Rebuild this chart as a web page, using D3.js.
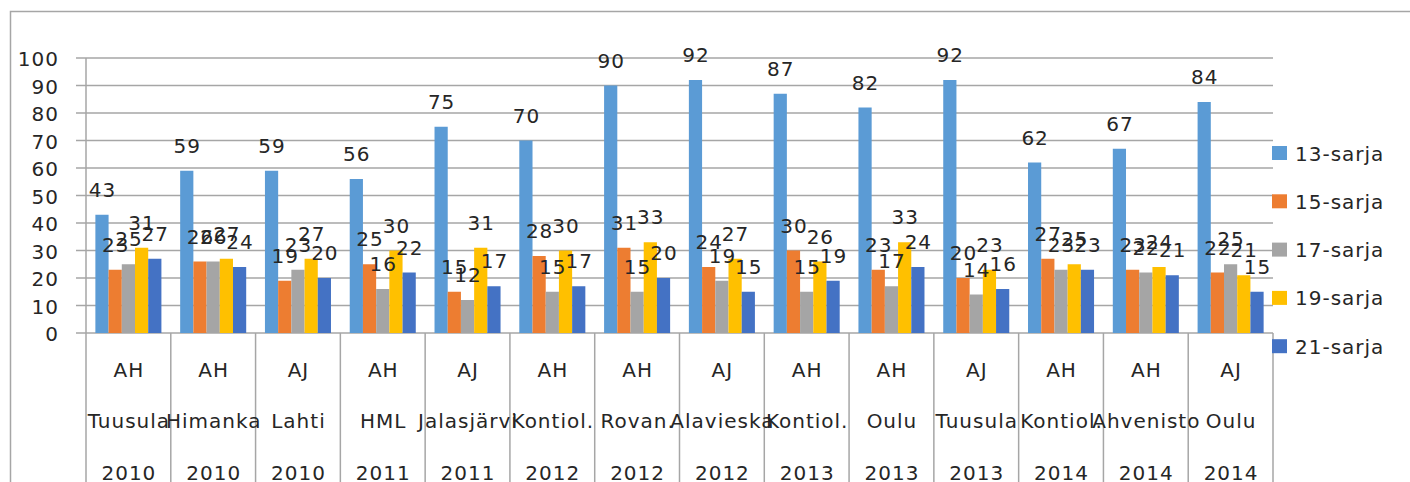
<!DOCTYPE html>
<html>
<head>
<meta charset="utf-8">
<script src="https://cdn.jsdelivr.net/npm/d3@7"></script>
<style>
  body { margin: 0; background: #fff; }
  text { font-family: "DejaVu Sans", sans-serif; font-size: 20px; fill: #262626; letter-spacing: 1px; }
</style>
</head>
<body>
<svg id="chart" width="1410" height="482"></svg>
<script>
// Chart data
var typeLabels = ["AH", "AH", "AJ", "AH", "AJ", "AH", "AH", "AJ", "AH", "AH", "AJ", "AH", "AH", "AJ"];
var placeLabels = ["Tuusula", "Himanka", "Lahti", "HML", "Jalasjärvi", "Kontiol.", "Rovan.", "Alavieska",
  "Kontiol.", "Oulu", "Tuusula", "Kontiol.", "Ahvenisto", "Oulu"];
var yearLabels = ["2010", "2010", "2010", "2011", "2011", "2012", "2012", "2012", "2013", "2013", "2013", "2014", "2014", "2014"];

var seriesNames = ["13-sarja", "15-sarja", "17-sarja", "19-sarja", "21-sarja"];
var sarja13 = [43, 59, 59, 56, 75, 70, 90, 92, 87, 82, 92, 62, 67, 84];
var sarja15 = [23, 26, 19, 25, 15, 28, 31, 24, 30, 23, 20, 27, 23, 22];
var sarja17 = [25, 26, 23, 16, 12, 15, 15, 19, 15, 17, 14, 23, 22, 25];
var sarja19 = [31, 27, 27, 30, 31, 30, 33, 27, 26, 33, 23, 25, 24, 21];
var sarja21 = [27, 24, 20, 22, 17, 17, 20, 15, 19, 24, 16, 23, 21, 15];
var seriesColors = ["#5B9BD5", "#ED7D31", "#A5A5A5", "#FFC000", "#4472C4"];
var yTicks = [0, 10, 20, 30, 40, 50, 60, 70, 80, 90, 100];

var allSeries = [sarja13, sarja15, sarja17, sarja19, sarja21];

// Layout
var plotLeft = 86, plotRight = 1273, plotTop = 58, plotBottom = 333;
var gridColor = "#a6a6a6";

var svg = d3.select("#chart");

// Outer chart border (right and bottom run off the picture)
svg.append("rect")
  .attr("x", 10.5).attr("y", 11.5)
  .attr("width", 1500).attr("height", 600)
  .attr("fill", "none")
  .attr("stroke", gridColor)
  .attr("stroke-width", 1.5);

var x0 = d3.scaleBand()
  .domain(d3.range(typeLabels.length))
  .range([plotLeft, plotRight])
  .padding(0);

var x1 = d3.scaleBand()
  .domain(seriesNames)
  .range([0, x0.bandwidth()])
  .paddingInner(0)
  .paddingOuter(0.71);

var y = d3.scaleLinear()
  .domain([0, 100])
  .range([plotBottom, plotTop]);

var color = d3.scaleOrdinal().domain(seriesNames).range(seriesColors);

// Gridlines with outward tick stubs
svg.append("g").selectAll("line")
  .data(yTicks)
  .enter().append("line")
  .attr("x1", plotLeft - 10).attr("x2", plotRight)
  .attr("y1", function(d) { return y(d); })
  .attr("y2", function(d) { return y(d); })
  .attr("stroke", gridColor)
  .attr("stroke-width", 1.5);

// Y tick labels
svg.append("g").selectAll("text")
  .data(yTicks)
  .enter().append("text")
  .attr("x", 59)
  .attr("y", function(d) { return y(d) + 8; })
  .attr("text-anchor", "end")
  .text(function(d) { return d; });

// Vertical value axis line
svg.append("line")
  .attr("x1", plotLeft).attr("x2", plotLeft)
  .attr("y1", plotTop).attr("y2", plotBottom)
  .attr("stroke", gridColor)
  .attr("stroke-width", 1.5);

// Bars
var groups = svg.append("g").selectAll("g")
  .data(d3.range(typeLabels.length))
  .enter().append("g")
  .attr("transform", function(i) { return "translate(" + x0(i) + ",0)"; });

groups.selectAll("rect")
  .data(function(i) {
    return seriesNames.map(function(name, s) { return { name: name, value: allSeries[s][i] }; });
  })
  .enter().append("rect")
  .attr("x", function(d) { return x1(d.name); })
  .attr("y", function(d) { return y(d.value); })
  .attr("width", x1.bandwidth())
  .attr("height", function(d) { return plotBottom - y(d.value); })
  .attr("fill", function(d) { return color(d.name); });

// Data labels above bars
groups.selectAll("text")
  .data(function(i) {
    return seriesNames.map(function(name, s) { return { name: name, value: allSeries[s][i] }; });
  })
  .enter().append("text")
  .attr("x", function(d) { return x1(d.name) + x1.bandwidth() / 2 + 0.5; })
  .attr("y", function(d) { return y(d.value) - 18; })
  .attr("text-anchor", "middle")
  .text(function(d) { return d.value; });

// Category axis: separators and three label rows
var sepX = d3.range(typeLabels.length + 1).map(function(i) {
  return i < typeLabels.length ? x0(i) : plotRight;
});
svg.append("g").selectAll("line")
  .data(sepX)
  .enter().append("line")
  .attr("x1", function(d) { return d; })
  .attr("x2", function(d) { return d; })
  .attr("y1", plotBottom).attr("y2", 482)
  .attr("stroke", gridColor)
  .attr("stroke-width", 1.5);

var rows = [[typeLabels, 377], [placeLabels, 428], [yearLabels, 480]];
rows.forEach(function(row) {
  svg.append("g").selectAll("text")
    .data(row[0])
    .enter().append("text")
    .attr("x", function(d, i) { return x0(i) + x0.bandwidth() / 2 + 0.5; })
    .attr("y", row[1])
    .attr("text-anchor", "middle")
    .text(function(d) { return d; });
});

// Legend
var legend = svg.append("g").selectAll("g")
  .data(seriesNames)
  .enter().append("g")
  .attr("transform", function(d, i) { return "translate(1272," + (153 + i * 48.3) + ")"; });

legend.append("rect")
  .attr("x", 0).attr("y", -7)
  .attr("width", 15).attr("height", 14)
  .attr("fill", function(d) { return color(d); });

legend.append("text")
  .attr("x", 23)
  .attr("y", 7.5)
  .text(function(d) { return d; });
</script>
</body>
</html>
